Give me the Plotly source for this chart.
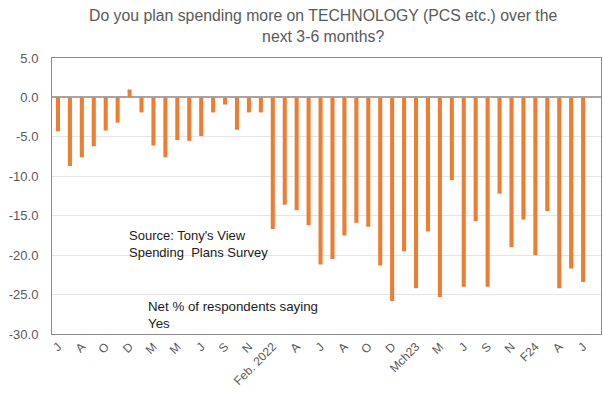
import plotly.graph_objects as go

# Net % of respondents planning to spend more on technology, survey by survey
net_yes = [
    -4.3, -8.7, -7.6, -6.2, -4.2, -3.2, 1.0, -1.9, -6.1, -7.6,
    -5.4, -5.5, -4.9, -1.9, -0.9, -4.1, -1.9, -1.9, -16.7, -13.6,
    -14.3, -16.2, -21.2, -20.5, -17.5, -15.9, -16.4, -21.3, -25.8, -19.5,
    -24.2, -17.0, -25.3, -10.5, -24.0, -15.7, -24.0, -12.2, -19.0, -15.5,
    -20.0, -14.4, -24.2, -21.7, -23.4,
]
survey_index = list(range(len(net_yes)))

# Every second survey carries a label on the category axis
tick_labels = ["J", "A", "O", "D", "M", "M", "J", "S", "N", "Feb. 2022", "A", "J",
               "A", "O", "D", "Mch23", "M", "J", "S", "N", "F24", "A", "J"]
tick_positions = survey_index[::2]

y_ticks = [5, 0, -5, -10, -15, -20, -25, -30]

FONT = "Liberation Sans, Arial, sans-serif"
GREY_TEXT = "#595959"
PLOT_H = 393 - 58 - 59
PLOT_W = 603 - 52 - 2

fig = go.Figure(
    go.Bar(
        x=survey_index,
        y=net_yes,
        width=0.34,
        marker=dict(color="#ED7D31", line=dict(width=0)),
        hoverinfo="y",
    )
)

fig.update_layout(
    width=603,
    height=393,
    margin=dict(l=52, r=2, t=58, b=59),
    paper_bgcolor="white",
    plot_bgcolor="white",
    showlegend=False,
    font=dict(family=FONT, color=GREY_TEXT),
    xaxis=dict(
        range=[-0.5, 45.5],
        tickmode="array",
        tickvals=tick_positions,
        ticktext=tick_labels,
        tickangle=-45,
        tickfont=dict(family=FONT, size=12, color=GREY_TEXT),
        showgrid=False,
        zeroline=False,
        showline=True,
        linecolor="#8c8c8c",
        linewidth=1,
        mirror=True,
        ticks="",
        fixedrange=True,
    ),
    yaxis=dict(
        range=[-30, 5],
        tickmode="array",
        tickvals=y_ticks,
        ticktext=[f"{v:.1f}" for v in y_ticks],
        tickfont=dict(family=FONT, size=13, color=GREY_TEXT),
        showgrid=True,
        gridcolor="#e6e6e6",
        gridwidth=1,
        zeroline=True,
        zerolinecolor="#a6a6a6",
        zerolinewidth=2,
        showline=True,
        linecolor="#8c8c8c",
        linewidth=1,
        mirror=True,
        ticks="",
        ticklabelstandoff=10,
        fixedrange=True,
    ),
    annotations=[
        dict(
            text="Do you plan spending more on TECHNOLOGY (PCS etc.) over the<br>next 3-6 months?",
            xref="paper", yref="paper",
            x=(323 - 52) / PLOT_W, y=1 + (58 - 5) / PLOT_H,
            xanchor="center", yanchor="top", align="center",
            showarrow=False,
            font=dict(family=FONT, size=15.8, color=GREY_TEXT),
        ),
        dict(
            text="Source: Tony's View<br>Spending  Plans Survey",
            xref="paper", yref="paper",
            x=(127 - 52) / PLOT_W, y=(334 - 226) / PLOT_H,
            xanchor="left", yanchor="top", align="left",
            showarrow=False,
            font=dict(family=FONT, size=13, color="#1a1a1a"),
        ),
        dict(
            text="Net % of respondents saying<br>Yes",
            xref="paper", yref="paper",
            x=(146 - 52) / PLOT_W, y=(334 - 297) / PLOT_H,
            xanchor="left", yanchor="top", align="left",
            showarrow=False,
            font=dict(family=FONT, size=13.3, color="#1a1a1a"),
        ),
    ],
)

fig.write_html("out.html")
